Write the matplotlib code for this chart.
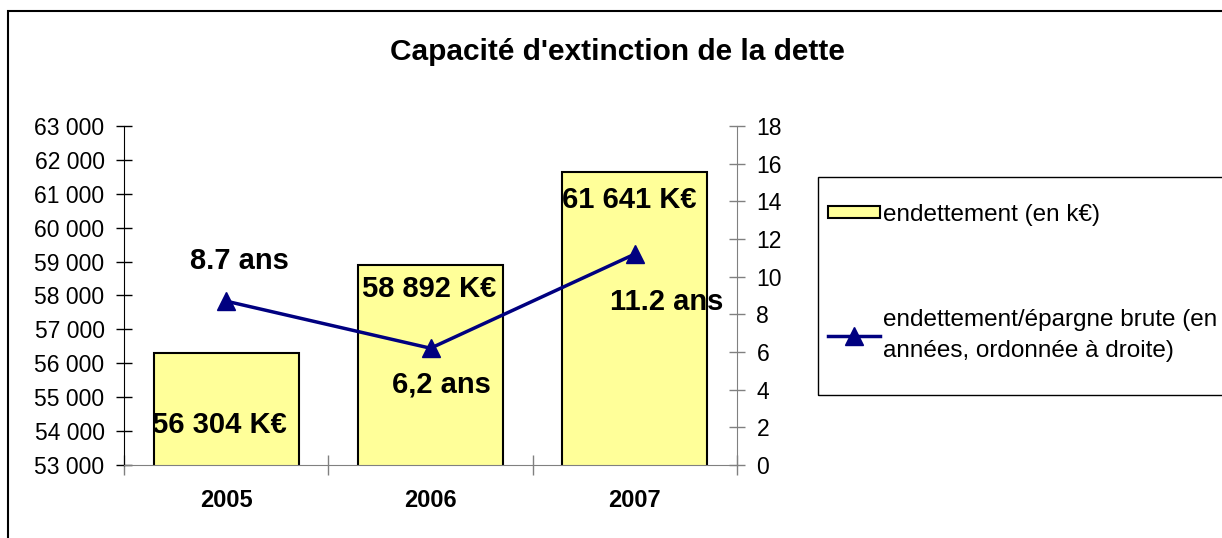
import matplotlib
matplotlib.use('Agg')
from matplotlib import pyplot as plt
from matplotlib.patches import Rectangle
from matplotlib.ticker import FuncFormatter

years = ['2005', '2006', '2007']
debt = [56304, 58892, 61641]
debt_labels = ['56 304 K\u20ac', '58 892 K\u20ac', '61 641 K\u20ac']
ratio = [8.7, 6.2, 11.2]
ratio_labels = ['8.7 ans', '6,2 ans', '11.2 ans']

# label offsets in pixels (dx, dy), y up
debt_offsets = [(-7, -72), (-1, -24), (-6, -28)]
ratio_offsets = [(13, 40), (11, -36), (32, -48)]

plt.rcParams['font.family'] = ['Liberation Sans', 'DejaVu Sans']

fig = plt.figure(figsize=(12.22, 5.38), dpi=100)
W, H = 1222, 538


def box(x0, y0, x1, y1):
  return [x0 / W, 1 - y1 / H, (x1 - x0) / W, (y1 - y0) / H]


ax = fig.add_axes(box(124, 126, 737, 465))
ax2 = ax.twinx()

x = list(range(len(years)))
bars = ax.bar(x, debt, width=0.71, color='#FFFF99', edgecolor='black',
              linewidth=1.5, label='endettement (en k\u20ac)', zorder=2)
line, = ax2.plot(x, ratio, color='#000080', linewidth=2.5, marker='^',
                 markersize=13, label='endettement/\u00e9pargne brute (en\nann\u00e9es, ordonn\u00e9e \u00e0 droite)')

ax.set_xlim(-0.5, 2.5)
ax.set_ylim(53000, 63000)
ax.set_yticks(range(53000, 63001, 1000))
ax.yaxis.set_major_formatter(FuncFormatter(lambda v, p: '{:,.0f}'.format(v).replace(',', ' ')))
ax2.set_ylim(0, 18)
ax2.set_yticks(range(0, 19, 2))

ax.set_xticks(x)
ax.set_xticklabels(years, fontsize=17, fontweight='bold')
ax.set_xticks([-0.5, 0.5, 1.5, 2.5], minor=True)
ax.tick_params(axis='x', which='major', length=0, pad=17)
ax.tick_params(axis='x', which='minor', direction='inout', length=14, width=1, color='#808080')
ax.tick_params(axis='y', direction='inout', length=12, width=1, labelsize=16.5, pad=8)
ax2.tick_params(axis='y', direction='inout', length=12, width=1, labelsize=16.5, pad=8, color='#808080')

for s in ['top', 'right']:
  ax.spines[s].set_visible(False)
for s in ['top', 'left', 'bottom']:
  ax2.spines[s].set_visible(False)
ax.spines['bottom'].set_color('#808080')
ax.spines['left'].set_color('black')
ax2.spines['right'].set_color('#808080')

for i in x:
  ax.annotate(debt_labels[i], (x[i], debt[i]), xytext=debt_offsets[i],
              textcoords='offset pixels', ha='center', va='center',
              fontsize=21, fontweight='bold', zorder=5)
  ax2.annotate(ratio_labels[i], (x[i], ratio[i]), xytext=ratio_offsets[i],
               textcoords='offset pixels', ha='center', va='center',
               fontsize=21, fontweight='bold', zorder=5)

fig.text(617 / W, 1 - 52 / H, "Capacit\u00e9 d'extinction de la dette",
         ha='center', va='center', fontsize=21.5, fontweight='bold')

# outer chart border and legend frame
fig.patches.append(Rectangle((8 / W, -0.05), 1.1, 1 - 11 / H + 0.05, transform=fig.transFigure,
                             fill=False, edgecolor='black', linewidth=1.5))
fig.patches.append(Rectangle((818 / W, 1 - 395 / H), 0.5, (395 - 177) / H, transform=fig.transFigure,
                             fill=False, edgecolor='black', linewidth=1))

leg = fig.legend([bars, line], [bars.get_label(), line.get_label()],
                 loc='upper left', bbox_to_anchor=(828 / W, 1 - 204 / H),
                 frameon=False, fontsize=17.5, handlelength=2.15, handleheight=0.4,
                 handletextpad=0.12, labelspacing=3.4, borderpad=0, borderaxespad=0)
for t in leg.get_texts():
  t.set_linespacing(1.55)

fig.savefig('out.png', dpi=100)
